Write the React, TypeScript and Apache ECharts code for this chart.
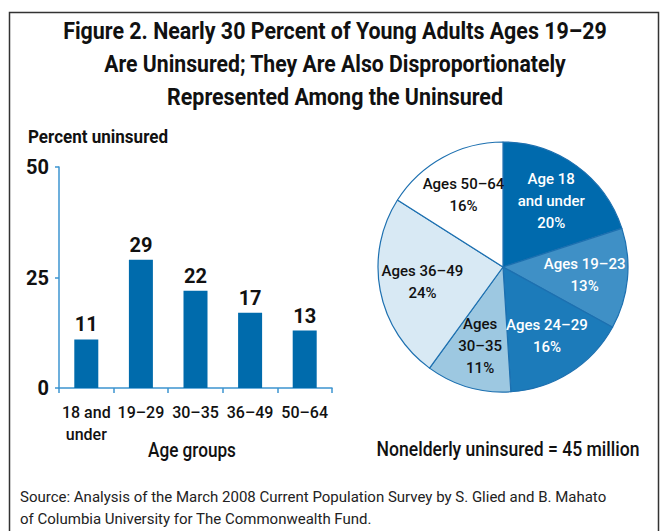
import React, { useEffect, useRef } from "react";
import * as echarts from "echarts";

const titleLines = [
  "Figure 2. Nearly 30 Percent of Young Adults Ages 19–29",
  "Are Uninsured; They Are Also Disproportionately",
  "Represented Among the Uninsured",
];
const ageGroups = ["18 and\nunder", "19–29", "30–35", "36–49", "50–64"];
const percentUninsured = [11, 29, 22, 17, 13];
const yTicks = { min: 0, max: 50, interval: 25 };
const pieLabels = [
  "Age 18\nand under",
  "Ages 19–23",
  "Ages 24–29",
  "Ages\n30–35",
  "Ages 36–49",
  "Ages 50–64",
];
const pieShares = [20, 13, 16, 11, 24, 16];
const pieColors = ["#006aad", "#3f90c6", "#1c7bba", "#9dc8e1", "#d8e9f4", "#ffffff"];
const pieTextColors = ["#ffffff", "#ffffff", "#ffffff", "#111111", "#111111", "#111111"];
const yAxisTitle = "Percent uninsured";
const xAxisTitle = "Age groups";
const pieNote = "Nonelderly uninsured = 45 million";
const sourceLines = [
  "Source: Analysis of the March 2008 Current Population Survey by S. Glied and B. Mahato",
  "of Columbia University for The Commonwealth Fund.",
];

const FONT = "Roboto, 'Noto Sans', sans-serif";

function measure(text: string, size: number, weight: string | number) {
  const ctx = document.createElement("canvas").getContext("2d");
  if (!ctx) return 1;
  ctx.font = `${weight} ${size}px Roboto`;
  return ctx.measureText(text).width;
}

function textEl(
  text: string,
  x: number,
  y: number,
  size: number,
  weight: string | number,
  scaleX: number,
  align: string,
  color = "#111"
) {
  return {
    type: "text",
    x,
    y,
    scaleX,
    silent: true,
    style: {
      text,
      fontSize: size,
      fontWeight: weight,
      fontFamily: FONT,
      fill: color,
      textAlign: align,
      textVerticalAlign: "middle",
      align,
      verticalAlign: "middle",
    },
  };
}

function fitText(
  text: string,
  x: number,
  y: number,
  size: number,
  weight: string | number,
  targetWidth: number,
  align: string,
  color = "#111"
) {
  const s = Math.min(1, targetWidth / measure(text, size, weight));
  return textEl(text, x, y, size, weight, s, align, color);
}

export default function App() {
  const ref = useRef<HTMLDivElement>(null);

  useEffect(() => {
    if (!ref.current) return;
    const chart = echarts.init(ref.current, undefined, { renderer: "svg" });
    const axisColor = "#3d94d0";

    const srcScale = Math.min(1, 602 / measure(sourceLines[0], 15, "normal"));

    const graphics: any[] = [
      {
        type: "rect",
        silent: true,
        shape: { x: 9.5, y: 12.5, width: 649, height: 540 },
        style: { fill: "none", stroke: "#333", lineWidth: 1.5 },
      },
      fitText(titleLines[0], 335, 31, 24, "bold", 544, "center"),
      fitText(titleLines[1], 335, 64, 24, "bold", 462, "center"),
      fitText(titleLines[2], 335, 97, 24, "bold", 336, "center"),
      fitText(yAxisTitle, 28, 137, 18, "bold", 140, "left"),
      fitText(xAxisTitle, 192, 451, 20, 500, 88, "center"),
      fitText(pieNote, 508, 450, 20, 500, 263, "center"),
      textEl(sourceLines[0], 20, 497, 15, "normal", srcScale, "left", "#222"),
      textEl(sourceLines[1], 20, 519, 15, "normal", srcScale, "left", "#222"),
    ];

    const pieData = pieLabels.map((name, i) => ({
      name,
      value: pieShares[i],
      itemStyle: { color: pieColors[i] },
      label: { color: pieTextColors[i] },
    }));

    chart.setOption({
      animation: false,
      backgroundColor: "#ffffff",
      textStyle: { fontFamily: FONT },
      grid: {
        left: 59,
        top: 167,
        width: 273,
        height: 221,
        containLabel: false,
        outerBoundsMode: "none",
      },
      xAxis: {
        type: "category",
        data: ageGroups,
        axisLine: { show: true, lineStyle: { color: axisColor, width: 1.5 } },
        axisTick: { show: true, length: 5, alignWithLabel: false, lineStyle: { color: axisColor, width: 1.5 } },
        axisLabel: {
          color: "#111",
          fontSize: 16,
          fontWeight: 500,
          fontFamily: FONT,
          margin: 13,
          lineHeight: 22,
          interval: 0,
          align: "center",
        },
        splitLine: { show: false },
      },
      yAxis: {
        type: "value",
        min: yTicks.min,
        max: yTicks.max,
        interval: yTicks.interval,
        axisLine: { show: true, lineStyle: { color: axisColor, width: 1.5 } },
        axisTick: { show: true, length: 4, inside: false, lineStyle: { color: axisColor, width: 1.5 } },
        axisLabel: {
          color: "#111",
          fontSize: 20,
          fontWeight: "bold",
          fontFamily: FONT,
          margin: 10,
        },
        splitLine: { show: false },
      },
      series: [
        {
          type: "bar",
          data: percentUninsured,
          barWidth: 24,
          itemStyle: { color: "#006bac" },
          label: {
            show: true,
            position: "top",
            distance: 5,
            color: "#111",
            fontSize: 20,
            fontWeight: "bold",
            fontFamily: FONT,
          },
        },
        {
          type: "pie",
          center: [503, 267],
          radius: [0, 125],
          startAngle: 90,
          clockwise: true,
          data: pieData,
          itemStyle: { borderColor: "#1d70b0", borderWidth: 1.2 },
          label: { show: false },
          labelLine: { show: false },
          emphasis: { disabled: true },
          silent: true,
        },
        {
          type: "pie",
          center: [503, 267],
          radius: [0, 158],
          startAngle: 90,
          clockwise: true,
          data: pieData.map((d) => ({ ...d, itemStyle: { color: "rgba(0,0,0,0)" } })),
          itemStyle: { borderWidth: 0, color: "rgba(0,0,0,0)" },
          label: {
            show: true,
            position: "inside",
            fontSize: 15,
            fontWeight: 500,
            fontFamily: FONT,
            lineHeight: 22,
            formatter: (p: any) => `${p.name}\n${p.value}%`,
          },
          labelLine: { show: false },
          emphasis: { disabled: true },
          silent: true,
        },
      ],
      graphic: graphics,
    });

    return () => chart.dispose();
  }, []);

  return (
    <div
      ref={ref}
      style={{ position: "fixed", left: 0, top: 0, width: 665, height: 531 }}
    />
  );
}
